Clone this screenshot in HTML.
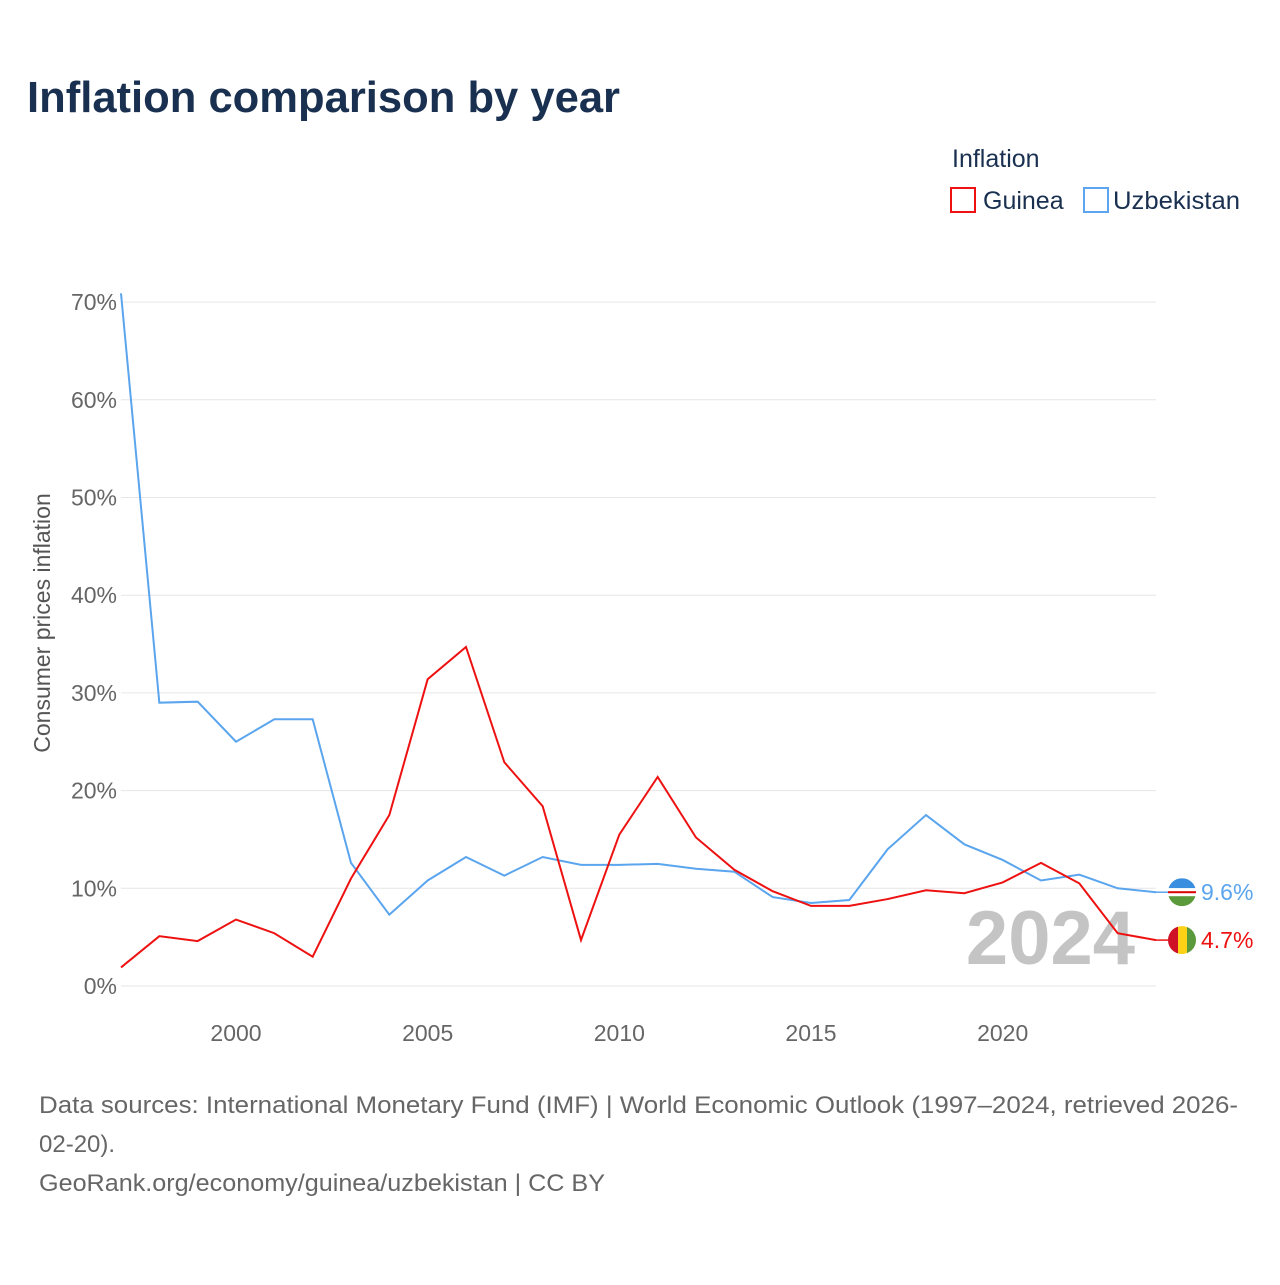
<!DOCTYPE html>
<html><head><meta charset="utf-8"><style>
body{margin:0;background:#fff;font-family:"Liberation Sans",sans-serif}
</style></head><body>
<svg id="c" width="1280" height="1280" xmlns="http://www.w3.org/2000/svg">
<text x="27" y="112" font-size="44" font-weight="bold" fill="#1a3050" textLength="593" lengthAdjust="spacingAndGlyphs">Inflation comparison by year</text>
<text x="952" y="167" font-size="25" fill="#1a3050">Inflation</text>
<g><rect x="951" y="188" width="24" height="24" fill="none" stroke="#ee1111" stroke-width="2"/><text x="983" y="209" font-size="25" fill="#1a3050">Guinea</text></g>
<g><rect x="1084" y="188" width="24" height="24" fill="none" stroke="#5aa5ee" stroke-width="2"/><text x="1113" y="209" font-size="25" fill="#1a3050" textLength="127" lengthAdjust="spacingAndGlyphs">Uzbekistan</text></g>
<text transform="translate(50,623) rotate(-90)" text-anchor="middle" font-size="23" fill="#555">Consumer prices inflation</text>
<g id="grid"></g><g id="xt"></g>
<text x="1135" y="964" text-anchor="end" font-size="76" font-weight="bold" fill="#c4c4c4">2024</text>
<g id="lines"></g>
<text x="39" y="1113" font-size="24" fill="#666" textLength="1199" lengthAdjust="spacingAndGlyphs">Data sources: International Monetary Fund (IMF) | World Economic Outlook (1997–2024, retrieved 2026-</text>
<text x="39" y="1152" font-size="24" fill="#666">02-20).</text>
<text x="39" y="1191" font-size="24" fill="#666" textLength="566" lengthAdjust="spacingAndGlyphs">GeoRank.org/economy/guinea/uzbekistan | CC BY</text>
</svg>
<script>
const years=[1997,1998,1999,2000,2001,2002,2003,2004,2005,2006,2007,2008,2009,2010,2011,2012,2013,2014,2015,2016,2017,2018,2019,2020,2021,2022,2023,2024];
const guinea=[1.9,5.1,4.6,6.8,5.4,3.0,11.0,17.5,31.4,34.7,22.9,18.4,4.7,15.5,21.4,15.2,11.9,9.7,8.2,8.2,8.9,9.8,9.5,10.6,12.6,10.5,5.4,4.7];
const uzbekistan=[70.9,29.0,29.1,25.0,27.3,27.3,12.6,7.3,10.8,13.2,11.3,13.2,12.4,12.4,12.5,12.0,11.7,9.1,8.5,8.8,14.0,17.5,14.5,12.9,10.8,11.4,10.0,9.6];
const yTicks=[0,10,20,30,40,50,60,70];
const xTicks=[2000,2005,2010,2015,2020];
const NS="http://www.w3.org/2000/svg";
const X=y=>121+(y-1997)*(1156-121)/27;
const Y=v=>986-v*9.77;
function mk(t,a,p){const e=document.createElementNS(NS,t);for(const k in a)e.setAttribute(k,a[k]);p.appendChild(e);return e;}
const g=document.getElementById('grid');
yTicks.forEach(v=>{
 const l=mk('line',{x1:121,x2:1156,y1:Y(v),y2:Y(v),stroke:'#e6e6e6','stroke-width':1},g);
 
 
 const t=mk('text',{x:117,y:Y(v)+8,'text-anchor':'end','font-size':23,fill:'#666'},g);
 t.textContent=v+'%';
 
 
});
const xt=document.getElementById('xt');
xTicks.forEach(v=>{
 const t=mk('text',{x:X(v),y:1041,'text-anchor':'middle','font-size':23,fill:'#666'},xt);
 t.textContent=v;
 
 
});
const L=document.getElementById('lines');
function series(vals,col,name,flag){
 const p=mk('polyline',{points:vals.map((v,i)=>X(years[i])+','+Y(v)).join(' '),fill:'none',stroke:col,'stroke-width':2},L);
 
 
 const last=vals[vals.length-1],ly=Y(last);
 mk('line',{x1:1156,x2:1168,y1:ly,y2:ly,stroke:col,'stroke-width':1.5},L);
 const c=mk('g',{},L);
 
 
 flag(c,1182,ly);
 const t=mk('text',{x:1201,y:ly+8,'font-size':23,fill:col},L);
 t.textContent=last.toFixed(1)+'%';
 
 
}
series(uzbekistan,'#5aa5ee','uzbekistan',(c,x,y)=>{
 mk('clipPath',{id:'cu'},c).appendChild(document.createElementNS(NS,'circle'));
 const cp=c.querySelector('circle');cp.setAttribute('cx',x);cp.setAttribute('cy',y);cp.setAttribute('r',14);
 const gg=mk('g',{'clip-path':'url(#cu)'},c);
 mk('rect',{x:x-14,y:y-14,width:28,height:10,fill:'#3a8ee0'},gg);
 mk('rect',{x:x-14,y:y-4,width:28,height:8,fill:'#fff'},gg);
 mk('rect',{x:x-14,y:y-1,width:28,height:2,fill:'#d00'},gg);
 mk('rect',{x:x-14,y:y+4,width:28,height:10,fill:'#5a9a3a'},gg);
});
series(guinea,'#ee1111','guinea',(c,x,y)=>{
 mk('clipPath',{id:'cg'},c).appendChild(document.createElementNS(NS,'circle'));
 const cp=c.querySelector('clipPath circle');cp.setAttribute('cx',x);cp.setAttribute('cy',y);cp.setAttribute('r',14);
 const gg=mk('g',{'clip-path':'url(#cg)'},c);
 mk('rect',{x:x-14,y:y-14,width:10,height:28,fill:'#ce1126'},gg);
 mk('rect',{x:x-4,y:y-14,width:9,height:28,fill:'#fcd116'},gg);
 mk('rect',{x:x+5,y:y-14,width:9,height:28,fill:'#5a9a3a'},gg);
});
</script>
</body></html>
